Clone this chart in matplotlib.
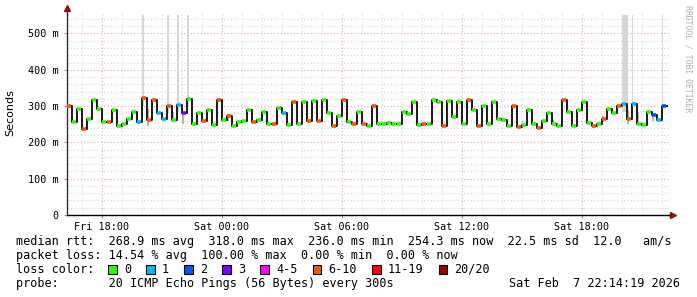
import matplotlib; matplotlib.use('Agg')
import matplotlib.pyplot as plt
import numpy as np
from matplotlib.patches import Rectangle

# median rtt in ms, one value per 15 minutes starting Fri 16:15
median_ms = [
    300, 256, 291, 238, 265, 318, 293, 256, 256, 288, 245, 250, 265, 283, 256, 321, 262, 318, 280, 265,
    300, 262, 303, 281, 320, 252, 281, 260, 290, 248, 318, 262, 272, 244, 255, 258, 290, 255,
    262, 285, 250, 250, 295, 280, 248, 310, 252, 312, 258, 315, 258, 318, 282, 245, 272, 318, 255,
    252, 285, 250, 246, 300, 250, 252, 254, 252, 250, 285, 278, 312, 248, 252, 250, 318, 310, 245,
    315, 270, 310, 252, 318, 290, 245, 300, 250, 312, 265, 262, 245, 300, 242, 248, 290, 250, 240,
    258, 280, 250, 245, 318, 285, 245, 290, 310, 254, 245, 250, 265, 292, 282, 300, 305, 265, 305,
    252, 248, 285, 275, 262, 300,
]
# loss class index per sample (0 = 0 lost, 1 = 1, 2 = 2, 3 = 3, 4 = 4-5, 5 = 6-10, 6 = 11-19, 7 = 20/20)
loss_class = [
    5, 0, 0, 5, 0, 0, 0, 0, 5, 0, 0, 0, 0, 0, 1, 5, 5, 5, 1, 1,
    5, 0, 1, 3, 0, 0, 0, 5, 0, 0, 5, 0, 5, 0, 0, 0, 0, 5,
    0, 0, 0, 5, 0, 1, 0, 5, 0, 0, 5, 0, 5, 0, 0, 5, 0, 5, 0,
    5, 0, 5, 0, 5, 0, 0, 0, 0, 0, 0, 0, 0, 0, 5, 0, 0, 0, 5,
    0, 0, 0, 0, 5, 0, 5, 0, 0, 0, 0, 0, 0, 5, 5, 0, 0, 0, 5,
    0, 0, 0, 0, 5, 0, 0, 0, 0, 0, 5, 0, 5, 0, 0, 5, 1, 5, 1,
    0, 0, 0, 2, 1, 2,
]
# tall smoke spikes: sample index, duration in hours
tall_smoke_idx = [15, 20, 22, 24, 111, 113, 119]
tall_smoke_dur = [0.08, 0.08, 0.08, 0.12, 0.3, 0.06, 0.06]
# short smoke: sample index, low ms, high ms
short_smoke = [(16, 245, 292), (21, 255, 285), (23, 250, 280), (32, 258, 272),
               (97, 250, 262), (107, 255, 272), (112, 250, 290), (114, 250, 285), (117, 258, 282)]

loss_labels = ['0', '1', '2', '3', '4-5', '6-10', '11-19', '20/20']
loss_colors = ['#26ff00', '#00b8ff', '#0059ff', '#7e00ff', '#ff00ff', '#ff5500', '#ff0000', '#a10000']

x_ticks = [18, 24, 30, 36, 42]
x_labels = ['Fri 18:00', 'Sat 00:00', 'Sat 06:00', 'Sat 12:00', 'Sat 18:00']
y_ticks = [0, 100, 200, 300, 400, 500]
y_labels = ['0', '100 m', '200 m', '300 m', '400 m', '500 m']

START, STEP = 16.25, 0.25
MONO = 'DejaVu Sans Mono'

hours = START + STEP * np.arange(len(median_ms))
med = np.array(median_ms, dtype=float)

fig = plt.figure(figsize=(6.97, 2.97), dpi=100)
ax = fig.add_axes([67 / 697, 82 / 297, 602 / 697, 201.5 / 297])
ax.set_xlim(START, START + 602 / 20)
ax.set_ylim(0, 555)

# grid
ax.set_xticks(x_ticks)
ax.set_xticks(np.arange(17, 47), minor=True)
ax.set_yticks(y_ticks)
ax.set_yticks(np.arange(20, 555, 20), minor=True)
ax.grid(which='minor', color='#d4d4d4', lw=0.8, ls=(0, (1, 2)))
ax.grid(which='major', color='#e8a4a4', lw=0.8, ls=(0, (1, 2)))
ax.set_axisbelow(True)

# smoke
for i, d in zip(tall_smoke_idx, tall_smoke_dur):
    ax.bar(hours[i], 552 - (med[i] - 20), bottom=med[i] - 20, width=d,
           align='edge', color='#d6d6d6', lw=0, zorder=1.5)
for i, lo, hi in short_smoke:
    ax.bar(hours[i], hi - lo, bottom=lo, width=0.12, align='edge',
           color='#b4b4b4', lw=0, zorder=1.6)

# median line: black step line, loss-coloured dabs on each sample
ax.step(np.append(hours, hours[-1] + STEP), np.append(med, med[-1]), where='post',
        color='#1a1a1a', lw=1.4, zorder=3)
ax.hlines(med, hours + 0.02, hours + 0.19, colors=[loss_colors[c] for c in loss_class],
          lw=2.6, zorder=4)

# axes styling
for s in ['top', 'right']:
    ax.spines[s].set_visible(False)
ax.spines['left'].set_color('#333333')
ax.spines['bottom'].set_color('#000000')
ax.spines['left'].set_linewidth(1)
ax.spines['bottom'].set_linewidth(1)
ax.set_xticklabels(x_labels, fontsize=7.3, family=MONO)
ax.set_yticklabels(y_labels, fontsize=7.3, family=MONO)
ax.tick_params(which='major', length=2, pad=4, color='#d08080')
ax.tick_params(which='minor', length=0)
ax.tick_params(axis='x', pad=3)
ax.plot([0, 0], [1, 1.025], color='#333333', lw=1, transform=ax.transAxes, clip_on=False)
ax.plot([0], [1.028], marker='^', ms=4, color='#8b1010', transform=ax.transAxes, clip_on=False)
ax.plot([1, 1.004], [0, 0], color='#000000', lw=1, transform=ax.transAxes, clip_on=False)
ax.plot([1.006], [0], marker='>', ms=4, color='#8b1010', transform=ax.transAxes, clip_on=False)

fig.text(10 / 697, 1 - 113 / 297, 'Seconds', rotation=90, ha='center', va='center',
         fontsize=8, family='DejaVu Sans')
fig.text(688 / 697, 1 - 59 / 297, 'RRDTOOL / TOBI OETIKER', rotation=270, ha='center',
         va='center', fontsize=5.9, family=MONO, color='#b0b0b0')

# legend / stats text
CW = 7.1  # char width in px
lines = [
    'median rtt:  268.9 ms avg  318.0 ms max  236.0 ms min  254.3 ms now  22.5 ms sd  12.0   am/s',
    'packet loss: 14.54 % avg  100.00 % max  0.00 % min  0.00 % now',
    'loss color:',
    'probe:       20 ICMP Echo Pings (56 Bytes) every 300s',
]
line_y = [241.7, 255.3, 269.3, 283.3]
for txt, y in zip(lines, line_y):
    fig.text(16 / 697, 1 - y / 297, txt, ha='left', va='center', fontsize=8.5, family=MONO)
fig.text(680 / 697, 1 - 283.3 / 297, 'Sat Feb  7 22:14:19 2026', ha='right', va='center',
         fontsize=8.5, family=MONO)

sx = 108
for lab, col in zip(loss_labels, loss_colors):
    fig.patches.append(Rectangle((sx / 697, 1 - 273.5 / 297), 8.5 / 697, 9 / 297,
                                 transform=fig.transFigure, facecolor=col,
                                 edgecolor='black', lw=0.8))
    lx = sx + 16
    fig.text(lx / 697, 1 - 269.3 / 297, lab, ha='left', va='center', fontsize=8.5, family=MONO)
    sx = lx + len(lab) * CW + 15

fig.savefig('out.png', dpi=100)
